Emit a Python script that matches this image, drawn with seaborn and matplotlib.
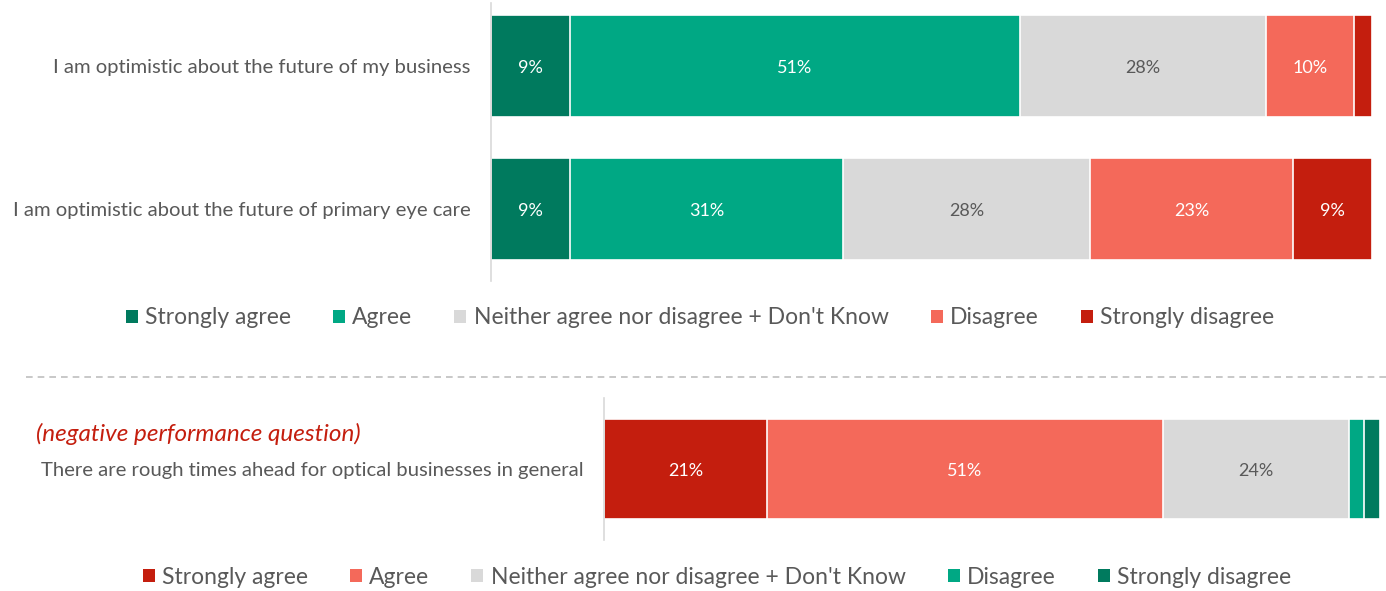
import numpy as np
import pandas as pd
import matplotlib
matplotlib.use("Agg")
import matplotlib.pyplot as plt
from matplotlib.patches import Patch
from matplotlib.lines import Line2D
import seaborn as sns

sns.set_theme(style="white")
plt.rcParams["font.family"] = ["Lato", "DejaVu Sans"]

# ---- data -------------------------------------------------------------
top_statements = [
    "I am optimistic about the future of my business",
    "I am optimistic about the future of primary eye care",
]
top_levels = ["Strongly agree", "Agree", "Neither agree nor disagree + Don't Know",
              "Disagree", "Strongly disagree"]
top_strongly_agree = [9, 9]
top_agree = [51, 31]
top_neither = [28, 28]
top_disagree = [10, 23]
top_strongly_disagree = [2, 9]

bottom_statements = ["There are rough times ahead for optical businesses in general"]
bottom_note = "(negative performance question)"
bottom_levels = ["Strongly agree", "Agree", "Neither agree nor disagree + Don't Know",
                 "Disagree", "Strongly disagree"]
bottom_strongly_agree = [21]
bottom_agree = [51]
bottom_neither = [24]
bottom_disagree = [2]
bottom_strongly_disagree = [2]

# ---- colours ----------------------------------------------------------
DARK_GREEN = "#007A5E"
GREEN = "#00A884"
GREY = "#D9D9D9"
SALMON = "#F4695A"
RED = "#C41E0E"
TEXT = "#595959"

top_colors = [DARK_GREEN, GREEN, GREY, SALMON, RED]
bottom_colors = [RED, SALMON, GREY, GREEN, DARK_GREEN]

W, H = 1386, 591
fig = plt.figure(figsize=(W / 100, H / 100), dpi=100)


def px_axes(x0, y0, x1, y1):
    return fig.add_axes([x0 / W, 1 - y1 / H, (x1 - x0) / W, (y1 - y0) / H])


def stacked(ax, statements, series, colors, bar_h, min_label=5):
    df = pd.DataFrame({"statement": statements})
    cum = np.zeros(len(statements))
    lefts = []
    for vals in series:
        lefts.append(cum.copy())
        cum = cum + np.array(vals, dtype=float)
    # draw cumulative totals from the widest down so each segment shows
    for i in range(len(series) - 1, -1, -1):
        df["total"] = lefts[i] + np.array(series[i], dtype=float)
        sns.barplot(data=df, x="total", y="statement", orient="h", ax=ax,
                    color=colors[i], saturation=1, width=bar_h,
                    edgecolor="white", linewidth=1.2)
    for i, vals in enumerate(series):
        for j, v in enumerate(vals):
            if v < min_label:
                continue
            c = TEXT if colors[i] == GREY else "white"
            ax.text(lefts[i][j] + v / 2, j, f"{v}%", ha="center",
                    va="center_baseline", fontsize=13, color=c)
    ax.set_xlim(0, 100)
    ax.set_xlabel("")
    ax.set_ylabel("")
    ax.set_xticks([])
    for s in ["top", "right", "bottom"]:
        ax.spines[s].set_visible(False)
    ax.spines["left"].set_color("#D9D9D9")
    ax.spines["left"].set_linewidth(1.2)
    ax.tick_params(axis="y", length=0, pad=14.5, labelsize=14.6, labelcolor=TEXT)


legend_kw = dict(ncol=5, frameon=False, fontsize=16.5, labelcolor=TEXT,
                 handlelength=0.52, handleheight=0.52, handletextpad=0.32,
                 columnspacing=1.83)

# ---- top chart --------------------------------------------------------
ax1 = px_axes(491, 3, 1372, 281)
stacked(ax1, top_statements,
        [top_strongly_agree, top_agree, top_neither, top_disagree, top_strongly_disagree],
        top_colors, bar_h=0.713)
ax1.set_ylim(1.5, -0.44)

handles1 = [Patch(facecolor=c, edgecolor="none", label=l) for c, l in zip(top_colors, top_levels)]
fig.legend(handles=handles1, loc="center", bbox_to_anchor=(700 / W, 1 - 318 / H),
           **legend_kw)

# ---- divider ----------------------------------------------------------
fig.add_artist(Line2D([26 / W, 1], [1 - 377 / H] * 2, transform=fig.transFigure,
                      color="#BFBFBF", linewidth=1.2, linestyle=(0, (4, 3))))

# ---- bottom chart -----------------------------------------------------
ax2 = px_axes(604, 398, 1380, 540)
stacked(ax2, bottom_statements,
        [bottom_strongly_agree, bottom_agree, bottom_neither, bottom_disagree,
         bottom_strongly_disagree],
        bottom_colors, bar_h=0.7)
ax2.set_ylim(0.497, -0.497)
fig.text(36 / W, 1 - 434 / H, bottom_note, color="#C41E0E", fontsize=17.5,
         style="italic", ha="left", va="center")

handles2 = [Patch(facecolor=c, edgecolor="none", label=l)
            for c, l in zip(bottom_colors, bottom_levels)]
fig.legend(handles=handles2, loc="center", bbox_to_anchor=(717 / W, 1 - 577 / H),
           **legend_kw)

fig.savefig("out.png", dpi=100, facecolor="white")
